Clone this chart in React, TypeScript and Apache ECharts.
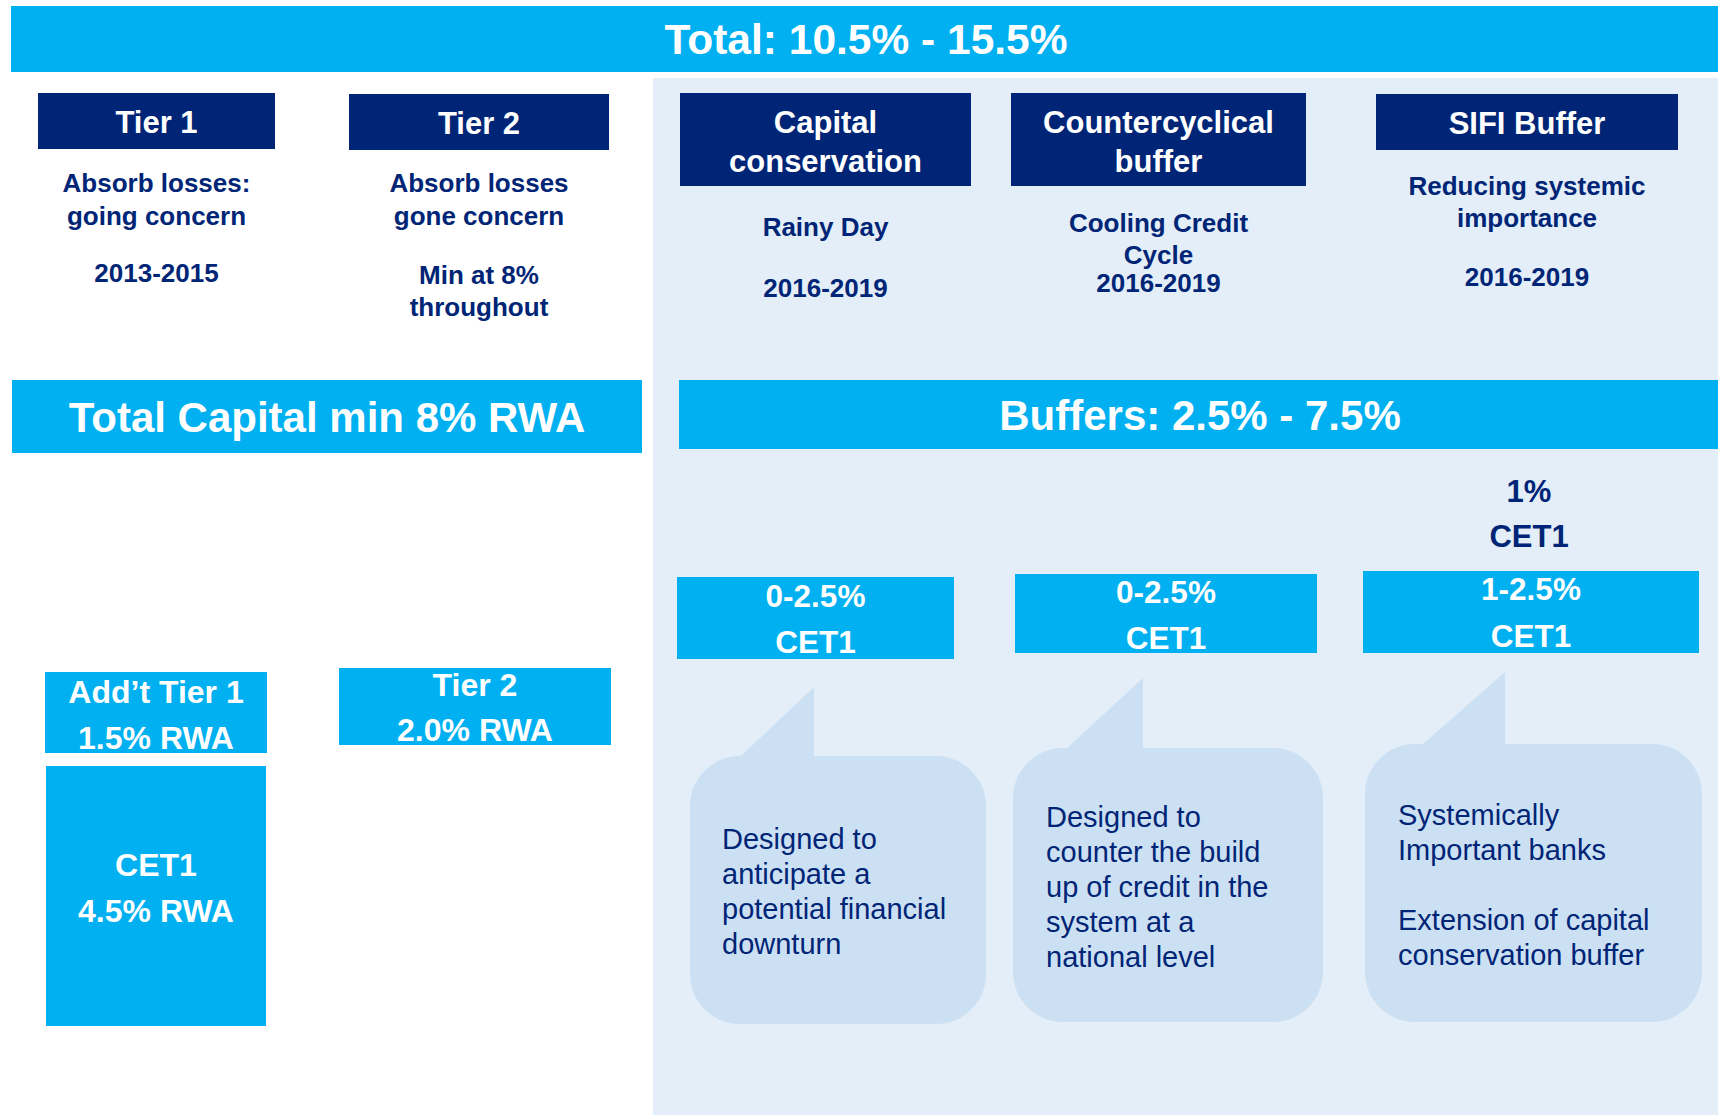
import React, { useEffect, useRef } from "react";
import * as echarts from "echarts";

const TOTAL_TITLE = "Total: 10.5% - 15.5%";
const MIN_TITLE = "Total Capital min 8% RWA";
const BUFFER_TITLE = "Buffers: 2.5% - 7.5%";

const headerLabels: string[][] = [
  ["Tier 1"],
  ["Tier 2"],
  ["Capital", "conservation"],
  ["Countercyclical", "buffer"],
  ["SIFI Buffer"],
];

const headerDescriptions: string[][] = [
  ["Absorb losses:", "going concern", "2013-2015"],
  ["Absorb losses", "gone concern", "Min at 8%", "throughout"],
  ["Rainy Day", "2016-2019"],
  ["Cooling Credit", "Cycle", "2016-2019"],
  ["Reducing systemic", "importance", "2016-2019"],
];

const capitalBlocks: string[][] = [
  ["Add\u2019t Tier 1", "1.5% RWA"],
  ["Tier 2", "2.0% RWA"],
  ["CET1", "4.5% RWA"],
];

const bufferBlocks: string[][] = [
  ["0-2.5%", "CET1"],
  ["0-2.5%", "CET1"],
  ["1-2.5%", "CET1"],
];

const sifiExtra: string[] = ["1%", "CET1"];

const bubbleTexts: string[][] = [
  ["Designed to", "anticipate a", "potential financial", "downturn"],
  ["Designed to", "counter the build", "up of credit in the", "system at a", "national level"],
  ["Systemically", "Important banks", "", "Extension of capital", "conservation buffer"],
];

const BLUE = "#00B0F0";
const NAVY = "#002576";
const PANEL = "#E3EEF8";
const BUBBLE = "#CCE0F3";
const FONT = "'Liberation Sans', Arial, sans-serif";

function txt(text: string, x: number, y: number, size: number, color: string, bold = true, align = "center") {
  return {
    type: "text",
    silent: true,
    style: {
      text,
      x,
      y,
      fill: color,
      font: `${bold ? "bold " : ""}${size}px ${FONT}`,
      textAlign: align,
      textVerticalAlign: "middle",
      align,
      verticalAlign: "middle",
    },
  };
}

function rect(x: number, y: number, w: number, h: number, color: string, r = 0) {
  return {
    type: "rect",
    silent: true,
    shape: { x, y, width: w, height: h, r },
    style: { fill: color },
  };
}

export default function App() {
  const ref = useRef<HTMLDivElement>(null);

  useEffect(() => {
    if (!ref.current) return;
    const chart = echarts.init(ref.current, undefined, { renderer: "svg" });
    const els: any[] = [];

    // background panel for buffers
    els.push(rect(653, 78, 1065, 1037, PANEL));
    // top banner
    els.push(rect(11, 6, 1707, 66, BLUE));
    els.push(txt(TOTAL_TITLE, 866, 39, 42.5, "#FFFFFF"));

    // header boxes
    const headerBoxes = [
      { x: 38, y: 93, w: 237, h: 56 },
      { x: 349, y: 94, w: 260, h: 56 },
      { x: 680, y: 93, w: 291, h: 93 },
      { x: 1011, y: 93, w: 295, h: 93 },
      { x: 1376, y: 94, w: 302, h: 56 },
    ];
    const descY = [
      [183, 216, 273],
      [183, 216, 275, 307],
      [227, 288],
      [223, 255, 283],
      [186, 218, 277],
    ];
    headerBoxes.forEach((b, i) => {
      els.push(rect(b.x, b.y, b.w, b.h, NAVY));
      const cx = b.x + b.w / 2;
      const lines = headerLabels[i];
      if (lines.length === 1) {
        els.push(txt(lines[0], cx, b.y + b.h / 2 + 1, 31, "#FFFFFF"));
      } else {
        els.push(txt(lines[0], cx, b.y + 29, 31, "#FFFFFF"));
        els.push(txt(lines[1], cx, b.y + 68, 31, "#FFFFFF"));
      }
      headerDescriptions[i].forEach((t, j) => {
        els.push(txt(t, cx, descY[i][j], 26, NAVY));
      });
    });

    // section banners
    els.push(rect(12, 380, 630, 73, BLUE));
    els.push(txt(MIN_TITLE, 327, 417, 42, "#FFFFFF"));
    els.push(rect(679, 380, 1039, 69, BLUE));
    els.push(txt(BUFFER_TITLE, 1200, 415, 42, "#FFFFFF"));

    // capital blocks
    const capBoxes = [
      { x: 45, y: 672, w: 222, h: 81, ly: [692, 738] },
      { x: 339, y: 668, w: 272, h: 77, ly: [685, 730] },
      { x: 46, y: 766, w: 220, h: 260, ly: [865, 911] },
    ];
    capBoxes.forEach((b, i) => {
      els.push(rect(b.x, b.y, b.w, b.h, BLUE));
      capitalBlocks[i].forEach((t, j) => {
        els.push(txt(t, b.x + b.w / 2, b.ly[j], 32, "#FFFFFF"));
      });
    });

    // buffer blocks
    const bufBoxes = [
      { x: 677, y: 577, w: 277, h: 82, ly: [596, 642] },
      { x: 1015, y: 574, w: 302, h: 79, ly: [592, 638] },
      { x: 1363, y: 571, w: 336, h: 82, ly: [589, 636] },
    ];
    bufBoxes.forEach((b, i) => {
      els.push(rect(b.x, b.y, b.w, b.h, BLUE));
      bufferBlocks[i].forEach((t, j) => {
        els.push(txt(t, b.x + b.w / 2, b.ly[j], 31.5, "#FFFFFF"));
      });
    });
    els.push(txt(sifiExtra[0], 1529, 491, 31, NAVY));
    els.push(txt(sifiExtra[1], 1529, 536, 31, NAVY));

    // speech bubbles
    const bubbles = [
      { x: 690, y: 756, w: 296, h: 268, tail: [[740, 757], [814, 687], [814, 757]], tx: 722, ty: 839 },
      { x: 1013, y: 748, w: 310, h: 274, tail: [[1066, 749], [1143, 678], [1143, 749]], tx: 1046, ty: 817 },
      { x: 1365, y: 744, w: 337, h: 278, tail: [[1422, 745], [1505, 672], [1505, 745]], tx: 1398, ty: 815 },
    ];
    bubbles.forEach((b, i) => {
      els.push(rect(b.x, b.y, b.w, b.h, BUBBLE, 50));
      els.push({
        type: "polygon",
        silent: true,
        shape: { points: b.tail },
        style: { fill: BUBBLE },
      });
      bubbleTexts[i].forEach((t, j) => {
        if (!t) return;
        els.push(txt(t, b.tx, b.ty + j * 35, 29, NAVY, false, "left"));
      });
    });

    chart.setOption({
      animation: false,
      backgroundColor: "#FFFFFF",
      graphic: { elements: els },
    });
    return () => chart.dispose();
  }, []);

  return (
    <div
      ref={ref}
      style={{ position: "fixed", left: 0, top: 0, width: 1718, height: 1115 }}
    />
  );
}
